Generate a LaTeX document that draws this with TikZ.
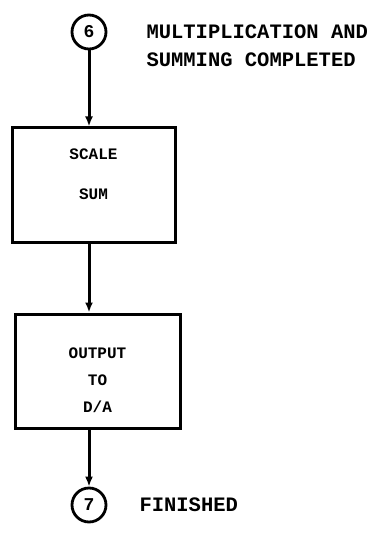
\documentclass[tikz,border=0pt]{standalone}
\usepackage{fontspec}
\setmonofont{Liberation Mono}
\usetikzlibrary{arrows.meta,positioning}

\begin{document}
\begin{tikzpicture}[x=1pt,y=-1pt,
  conn/.style={circle, draw, line width=2.8pt, minimum size=34pt, inner sep=0pt, font=\ttfamily\bfseries\fontsize{18}{18}\selectfont},
  box/.style={rectangle, draw, line width=3pt, align=center, font=\ttfamily\bfseries\fontsize{16}{27}\selectfont},
  note/.style={align=left, anchor=west, font=\ttfamily\bfseries\fontsize{20.5}{28}\selectfont},
  arrow/.style={line width=3pt, -{Latex[length=10pt,width=8pt]}}
]
  \useasboundingbox (0,0) rectangle (377,534);
  \node[conn] (c6) at (89,32) {6};
  \node[note] (n6) at (143,46) {MULTIPLICATION AND\\SUMMING COMPLETED};
  \node[box, minimum width=163pt, minimum height=114pt] (scale) at (93.5,185)
    {\raisebox{7pt}[0pt][0pt]{\begin{tabular}{@{}c@{}}SCALE\\[13pt]SUM\end{tabular}}};
  \node[box, minimum width=165pt, minimum height=114pt] (output) at (97.5,371)
    {\raisebox{-13pt}[0pt][0pt]{\begin{tabular}{@{}c@{}}OUTPUT\\TO\\D/A\end{tabular}}};
  \node[conn] (c7) at (89,505) {7};
  \node[note] (n7) at (136,505) {FINISHED};
  \draw[arrow] (c6) -- (c6 |- scale.north);
  \draw[arrow] (c6 |- scale.south) -- (c6 |- output.north);
  \draw[arrow] (c7 |- output.south) -- (c7);
\end{tikzpicture}
\end{document}
